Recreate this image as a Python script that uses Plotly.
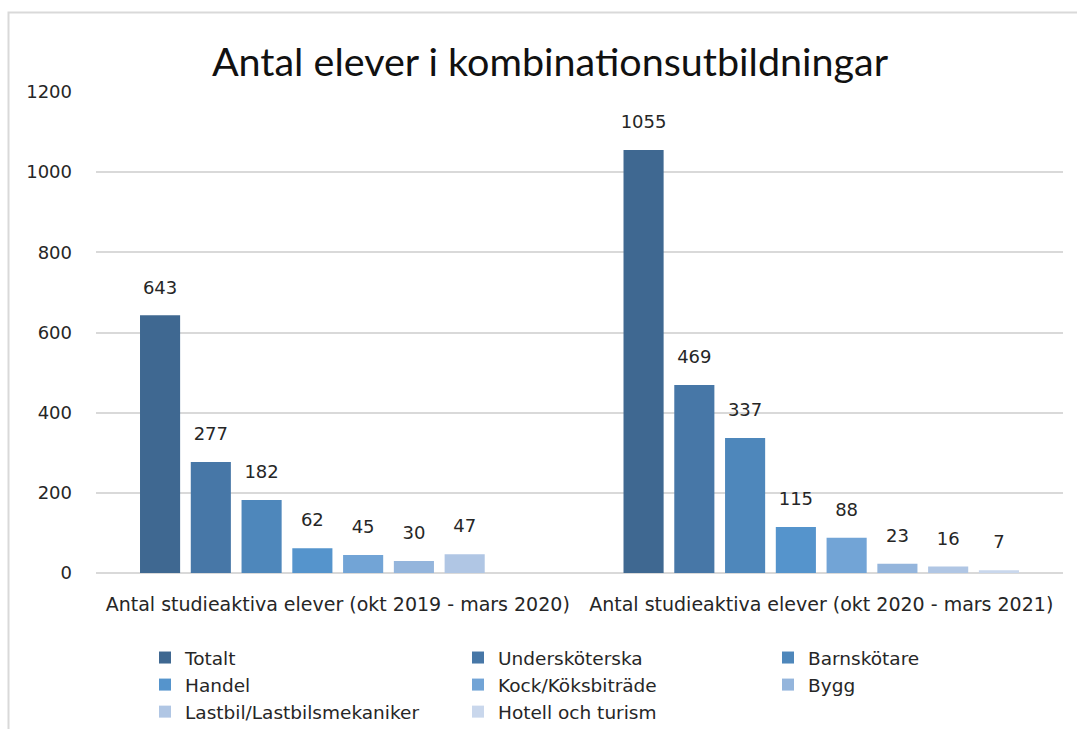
import plotly.graph_objects as go

# Data
categories = [
    "Antal studieaktiva elever (okt 2019 - mars 2020)",
    "Antal studieaktiva elever (okt 2020 - mars 2021)",
]
series_names = [
    "Totalt",
    "Undersköterska",
    "Barnskötare",
    "Handel",
    "Kock/Köksbiträde",
    "Bygg",
    "Lastbil/Lastbilsmekaniker",
    "Hotell och turism",
]
totalt = [643, 1055]
underskoterska = [277, 469]
barnskotare = [182, 337]
handel = [62, 115]
kock = [45, 88]
bygg = [30, 23]
lastbil = [47, 16]
hotell = [None, 7]

series_values = [totalt, underskoterska, barnskotare, handel, kock, bygg, lastbil, hotell]
colors = ["#3F6891", "#4777A7", "#4E87BB", "#5594CC", "#72A4D6", "#94B5DC", "#B0C6E4", "#C9D7EC"]
# legend column for each series (three columns, filled row by row)
legend_ids = ["legend", "legend2", "legend3"]

FONT = "DejaVu Sans, sans-serif"
TITLE_FONT = "Lato, sans-serif"
TXT = "#262626"
GAP = 0.16

fig = go.Figure()
for i, (name, vals, col) in enumerate(zip(series_names, series_values, colors)):
    fig.add_trace(go.Bar(
        name=name,
        x=categories,
        y=vals,
        offsetgroup=str(i),
        marker=dict(color=col, line=dict(width=0)),
        legend=legend_ids[i % 3],
    ))
# value labels, grouped the same way as the bars
for i, (name, vals) in enumerate(zip(series_names, series_values)):
    fig.add_trace(go.Scatter(
        x=categories,
        y=vals,
        offsetgroup=str(i),
        mode="markers+text",
        marker=dict(size=26, color="rgba(0,0,0,0)"),
        text=[("" if v is None else str(v)) for v in vals],
        textposition="top center",
        textfont=dict(family=FONT, size=18, color=TXT),
        showlegend=False,
        hoverinfo="skip",
        cliponaxis=False,
    ))

W, H = 1077, 729
L, R, T, B = 96, 14, 92, 156
pw = W - L - R
ph = H - T - B


def px_x(p):
    return (p - L) / pw


def px_y(p):
    return (H - B - p) / ph


legend_style = dict(
    orientation="v",
    xanchor="left",
    y=px_y(639),
    yanchor="top",
    traceorder="normal",
    font=dict(family=FONT, size=18.5, color=TXT),
    itemwidth=30,
    tracegroupgap=0,
    bgcolor="rgba(0,0,0,0)",
)

fig.update_layout(
    width=W,
    height=H,
    margin=dict(l=L, r=R, t=T, b=B, pad=0, autoexpand=False),
    paper_bgcolor="white",
    plot_bgcolor="white",
    barmode="group",
    bargap=GAP,
    bargroupgap=0.21,
    scattermode="group",
    scattergap=GAP,
    font=dict(family=FONT, color=TXT),
    title=dict(
        text="Antal elever i kombinationsutbildningar",
        x=550 / W,
        xanchor="center",
        y=1 - 62 / H,
        yanchor="middle",
        font=dict(family=TITLE_FONT, size=39.5, color="#111111"),
    ),
    xaxis=dict(
        showgrid=False,
        showline=False,
        ticks="",
        tickfont=dict(family=FONT, size=19, color=TXT),
        ticklabelstandoff=18,
    ),
    yaxis=dict(
        range=[0, 1200],
        tick0=0,
        dtick=200,
        showgrid=True,
        gridcolor="#D9D9D9",
        gridwidth=1.5,
        zeroline=True,
        zerolinecolor="#D9D9D9",
        zerolinewidth=1.5,
        showline=False,
        ticks="",
        ticklabelstandoff=23,
        tickfont=dict(family=FONT, size=18, color=TXT),
    ),
    legend=dict(x=px_x(145), **legend_style),
    legend2=dict(x=px_x(458), **legend_style),
    legend3=dict(x=px_x(768), **legend_style),
    showlegend=True,
)

# chart frame (left and top edges visible)
fig.add_shape(
    type="rect", xref="paper", yref="paper",
    x0=px_x(8.5), x1=px_x(W + 20), y0=px_y(H + 20), y1=px_y(12.5),
    line=dict(color="#D9D9D9", width=2), fillcolor="rgba(0,0,0,0)", layer="below",
)

fig.write_html("out.html")
